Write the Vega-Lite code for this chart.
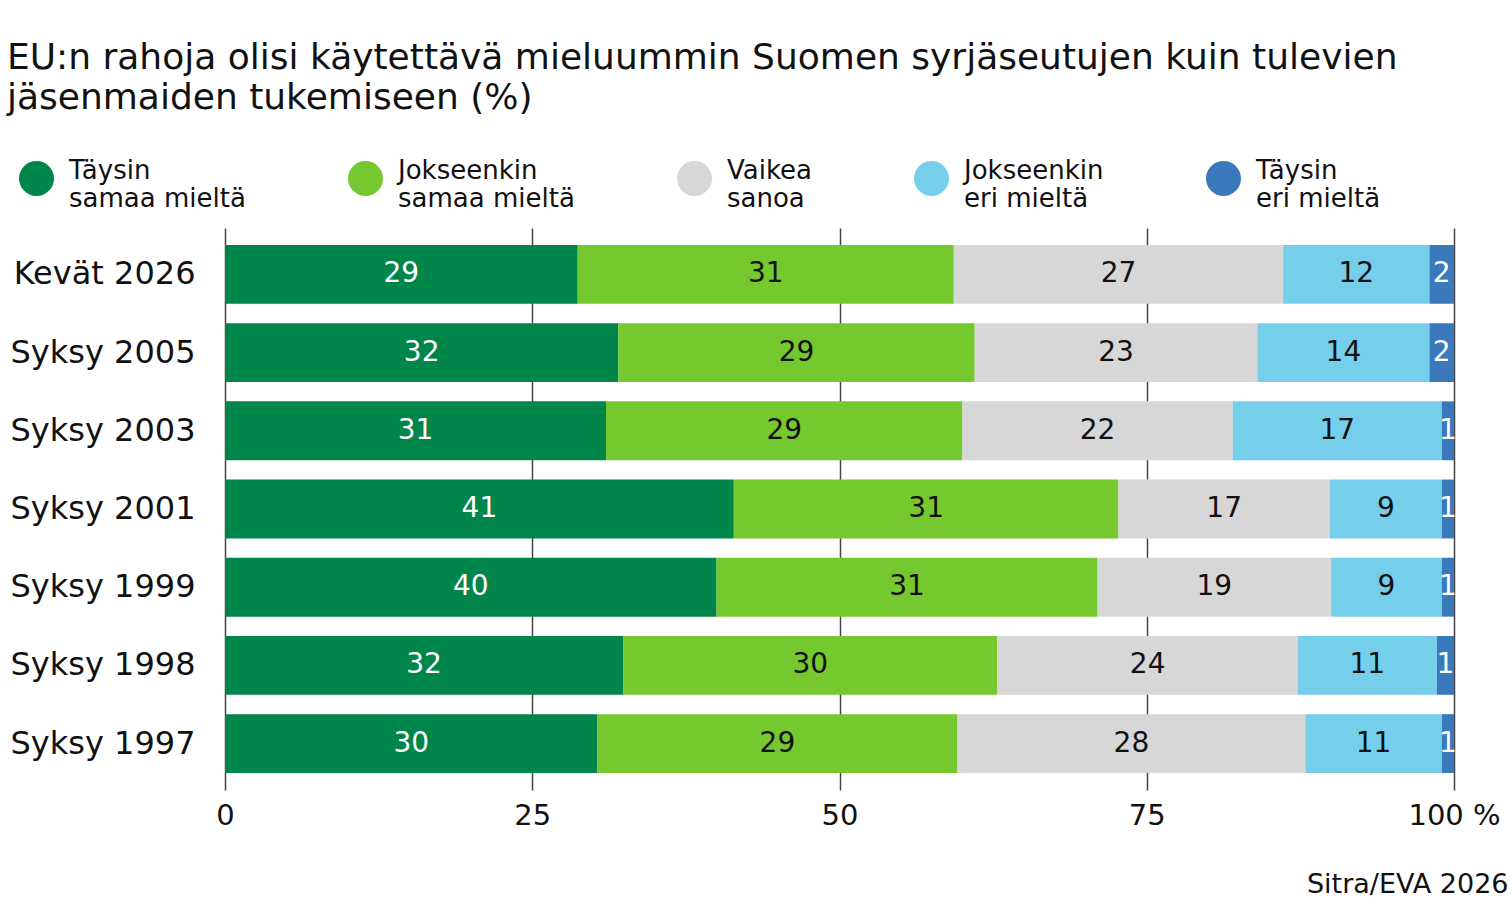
{
  "$schema": "https://vega.github.io/schema/vega-lite/v6.json",
  "width": 1229,
  "height": 562,
  "autosize": {"type": "none"},
  "padding": {"left": 225, "top": 228, "right": 58, "bottom": 117},
  "background": "white",
  "config": {
    "font": "DejaVu Sans",
    "view": {"stroke": null},
    "axis": {"labelColor": "#111111", "titleColor": "#111111"}
  },
  "title": {
    "text": ["EU:n rahoja olisi käytettävä mieluummin Suomen syrjäseutujen kuin tulevien", "jäsenmaiden tukemiseen (%)"],
    "anchor": "start",
    "frame": "group",
    "dx": -218,
    "fontSize": 36,
    "lineHeight": 40,
    "fontWeight": "normal",
    "color": "#111111",
    "offset": 44
  },
  "data": {
    "values": [
      {"period": "Kevät 2026", "answer": "Täysin samaa mieltä", "k": 1, "value": 28.7},
      {"period": "Kevät 2026", "answer": "Jokseenkin samaa mieltä", "k": 2, "value": 30.6},
      {"period": "Kevät 2026", "answer": "Vaikea sanoa", "k": 3, "value": 26.8},
      {"period": "Kevät 2026", "answer": "Jokseenkin eri mieltä", "k": 4, "value": 11.9},
      {"period": "Kevät 2026", "answer": "Täysin eri mieltä", "k": 5, "value": 2.0},
      {"period": "Syksy 2005", "answer": "Täysin samaa mieltä", "k": 1, "value": 32.0},
      {"period": "Syksy 2005", "answer": "Jokseenkin samaa mieltä", "k": 2, "value": 29.0},
      {"period": "Syksy 2005", "answer": "Vaikea sanoa", "k": 3, "value": 23.0},
      {"period": "Syksy 2005", "answer": "Jokseenkin eri mieltä", "k": 4, "value": 14.0},
      {"period": "Syksy 2005", "answer": "Täysin eri mieltä", "k": 5, "value": 2.0},
      {"period": "Syksy 2003", "answer": "Täysin samaa mieltä", "k": 1, "value": 31.0},
      {"period": "Syksy 2003", "answer": "Jokseenkin samaa mieltä", "k": 2, "value": 29.0},
      {"period": "Syksy 2003", "answer": "Vaikea sanoa", "k": 3, "value": 22.0},
      {"period": "Syksy 2003", "answer": "Jokseenkin eri mieltä", "k": 4, "value": 17.0},
      {"period": "Syksy 2003", "answer": "Täysin eri mieltä", "k": 5, "value": 1.0},
      {"period": "Syksy 2001", "answer": "Täysin samaa mieltä", "k": 1, "value": 41.4},
      {"period": "Syksy 2001", "answer": "Jokseenkin samaa mieltä", "k": 2, "value": 31.3},
      {"period": "Syksy 2001", "answer": "Vaikea sanoa", "k": 3, "value": 17.2},
      {"period": "Syksy 2001", "answer": "Jokseenkin eri mieltä", "k": 4, "value": 9.1},
      {"period": "Syksy 2001", "answer": "Täysin eri mieltä", "k": 5, "value": 1.0},
      {"period": "Syksy 1999", "answer": "Täysin samaa mieltä", "k": 1, "value": 40.0},
      {"period": "Syksy 1999", "answer": "Jokseenkin samaa mieltä", "k": 2, "value": 31.0},
      {"period": "Syksy 1999", "answer": "Vaikea sanoa", "k": 3, "value": 19.0},
      {"period": "Syksy 1999", "answer": "Jokseenkin eri mieltä", "k": 4, "value": 9.0},
      {"period": "Syksy 1999", "answer": "Täysin eri mieltä", "k": 5, "value": 1.0},
      {"period": "Syksy 1998", "answer": "Täysin samaa mieltä", "k": 1, "value": 32.4},
      {"period": "Syksy 1998", "answer": "Jokseenkin samaa mieltä", "k": 2, "value": 30.45},
      {"period": "Syksy 1998", "answer": "Vaikea sanoa", "k": 3, "value": 24.45},
      {"period": "Syksy 1998", "answer": "Jokseenkin eri mieltä", "k": 4, "value": 11.3},
      {"period": "Syksy 1998", "answer": "Täysin eri mieltä", "k": 5, "value": 1.4},
      {"period": "Syksy 1997", "answer": "Täysin samaa mieltä", "k": 1, "value": 30.3},
      {"period": "Syksy 1997", "answer": "Jokseenkin samaa mieltä", "k": 2, "value": 29.3},
      {"period": "Syksy 1997", "answer": "Vaikea sanoa", "k": 3, "value": 28.3},
      {"period": "Syksy 1997", "answer": "Jokseenkin eri mieltä", "k": 4, "value": 11.1},
      {"period": "Syksy 1997", "answer": "Täysin eri mieltä", "k": 5, "value": 1.0}
    ]
  },
  "transform": [
    {"stack": "value", "groupby": ["period"], "sort": [{"field": "k", "order": "ascending"}], "as": ["v0", "v1"]},
    {"calculate": "(datum.v0 + datum.v1) / 2", "as": "mid"}
  ],
  "encoding": {
    "y": {
      "field": "period",
      "type": "nominal",
      "sort": ["Kevät 2026", "Syksy 2005", "Syksy 2003", "Syksy 2001", "Syksy 1999", "Syksy 1998", "Syksy 1997"],
      "scale": {"paddingInner": 0.247, "paddingOuter": 0.217},
      "axis": {
        "title": null,
        "domain": false,
        "ticks": false,
        "labelFontSize": 32,
        "labelPadding": 30,
        "labelLimit": 300,
        "labelColor": "#111111"
      }
    }
  },
  "layer": [
    {
      "mark": {"type": "bar"},
      "encoding": {
        "x": {
          "field": "v0",
          "type": "quantitative",
          "scale": {"domain": [0, 100], "nice": false},
          "axis": {
            "values": [0, 25, 50, 75, 100],
            "labelExpr": "datum.value == 100 ? '100 %' : datum.label",
            "labelFontSize": 29,
            "labelPadding": 11,
            "labelFlush": false,
            "domain": false,
            "ticks": false,
            "grid": true,
            "gridColor": "#444444",
            "gridWidth": 1.5,
            "title": "Sitra/EVA 2026",
            "titleFontSize": 27,
            "titleFontWeight": "normal",
            "titleAlign": "right",
            "titleAnchor": "end",
            "titleBaseline": "alphabetic",
            "titleX": 1283,
            "titleY": 102
          }
        },
        "x2": {"field": "v1"},
        "color": {
          "field": "answer",
          "type": "nominal",
          "scale": {
            "domain": ["Täysin samaa mieltä", "Jokseenkin samaa mieltä", "Vaikea sanoa", "Jokseenkin eri mieltä", "Täysin eri mieltä"],
            "range": ["#00854a", "#76c82f", "#d7d7d7", "#76cfea", "#3979bc"]
          },
          "legend": {
            "title": null,
            "orient": "none",
            "legendX": -206,
            "legendY": -67,
            "direction": "horizontal",
            "columns": 5,
            "gridAlign": "none",
            "columnPadding": 102,
            "padding": 0,
            "symbolType": "circle",
            "symbolSize": 1225,
            "symbolStrokeWidth": 0,
            "symbolOpacity": 1,
            "symbolOffset": 0,
            "labelOffset": 15,
            "labelFontSize": 26,
            "labelLineHeight": 28,
            "labelBaseline": "alphabetic",
            "labelColor": "#111111",
            "labelLimit": 400,
            "labelExpr": "[slice(datum.label, 0, indexof(datum.label, ' ')), slice(datum.label, indexof(datum.label, ' ') + 1)]"
          }
        }
      }
    },
    {
      "mark": {"type": "text", "fontSize": 28, "baseline": "middle", "align": "center"},
      "encoding": {
        "x": {"field": "mid", "type": "quantitative"},
        "text": {"field": "value", "type": "quantitative", "format": ".0f"},
        "color": {
          "condition": {"test": "datum.k == 1 || datum.k == 5", "value": "white"},
          "value": "#111111"
        }
      }
    }
  ]
}
